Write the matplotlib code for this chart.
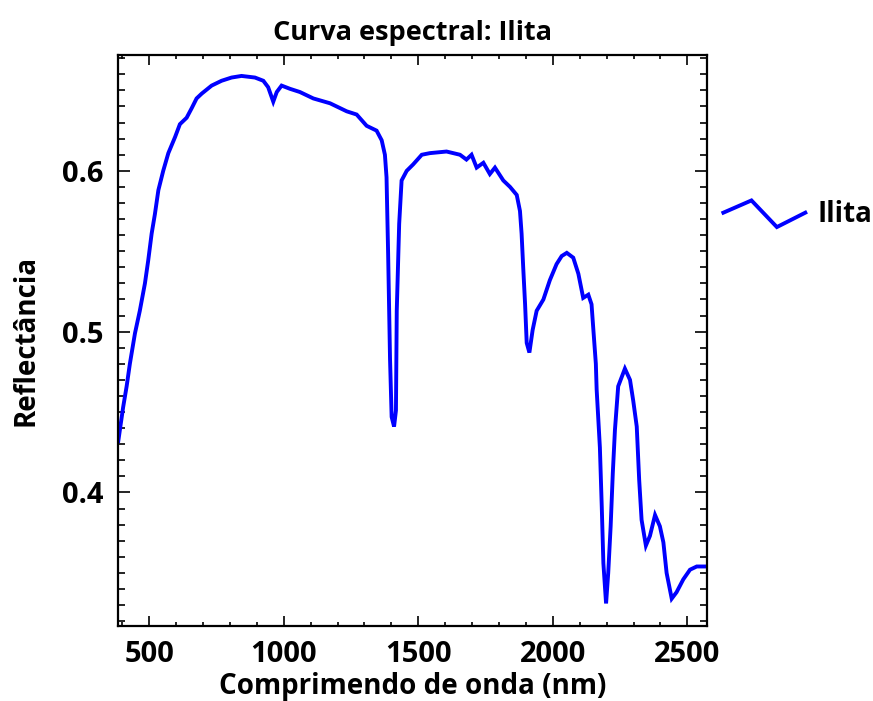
import numpy as np
import matplotlib
matplotlib.use("Agg")
import matplotlib.pyplot as plt
from matplotlib.lines import Line2D
from matplotlib.legend_handler import HandlerBase
from matplotlib.ticker import MultipleLocator, FormatStrFormatter

# ---- data ----
wavelength_nm = [385, 403, 416, 428, 447, 465, 484, 496, 509, 521, 534, 552, 571, 596,
                 614, 639, 658, 676, 695, 732, 769, 806, 843, 893, 924, 942, 961, 974,
                 992, 1023, 1060, 1110, 1172, 1234, 1271, 1308, 1345, 1364, 1376, 1382,
                 1388, 1395, 1401, 1410, 1417, 1420, 1429, 1438, 1457, 1481, 1513, 1543,
                 1605, 1655, 1679, 1698, 1717, 1742, 1766, 1785, 1816, 1841, 1866, 1878,
                 1884, 1890, 1897, 1903, 1913, 1925, 1940, 1965, 1989, 2014, 2033, 2052,
                 2076, 2095, 2113, 2132, 2144, 2150, 2160, 2163, 2175, 2182, 2188, 2198,
                 2206, 2215, 2223, 2231, 2243, 2268, 2287, 2299, 2312, 2321, 2330, 2346,
                 2361, 2380, 2398, 2411, 2423, 2442, 2460, 2485, 2510, 2535, 2572]
reflectance = [0.432, 0.453, 0.466, 0.480, 0.499, 0.513, 0.530, 0.544, 0.561, 0.573, 0.588,
               0.600, 0.611, 0.621, 0.629, 0.633, 0.639, 0.645, 0.648, 0.653, 0.656, 0.658,
               0.659, 0.658, 0.656, 0.652, 0.643, 0.649, 0.653, 0.651, 0.649, 0.645, 0.642,
               0.637, 0.635, 0.628, 0.625, 0.619, 0.610, 0.596, 0.548, 0.483, 0.447, 0.441,
               0.451, 0.513, 0.567, 0.594, 0.600, 0.604, 0.610, 0.611, 0.612, 0.610, 0.607,
               0.610, 0.602, 0.605, 0.598, 0.602, 0.594, 0.590, 0.585, 0.575, 0.561, 0.540,
               0.517, 0.493, 0.487, 0.501, 0.513, 0.520, 0.532, 0.542, 0.547, 0.549, 0.546,
               0.536, 0.521, 0.523, 0.517, 0.503, 0.480, 0.464, 0.428, 0.391, 0.356, 0.331,
               0.350, 0.379, 0.412, 0.439, 0.466, 0.477, 0.470, 0.457, 0.441, 0.408, 0.383,
               0.367, 0.373, 0.386, 0.379, 0.369, 0.350, 0.334, 0.338, 0.346, 0.352, 0.354,
               0.354]
series_name = "Ilita"
title_text = "Curva espectral: Ilita"
xlabel_text = "Comprimendo de onda (nm)"
ylabel_text = "Reflectância"

FONT = ["Open Sans", "DejaVu Sans"]
plt.rcParams["font.family"] = FONT
LINE_COLOR = "#0000FF"
W = "bold"


class ZigzagHandler(HandlerBase):
    def create_artists(self, legend, orig_handle, xdescent, ydescent,
                       width, height, fontsize, trans):
        fx = np.array([0.0, 0.343, 0.653, 1.0])
        fy = np.array([0.5, 1.13, -0.24, 0.5])
        line = Line2D(fx * width - xdescent, fy * height - ydescent,
                      color=orig_handle.get_color(),
                      linewidth=orig_handle.get_linewidth(),
                      solid_joinstyle="miter")
        line.set_transform(trans)
        return [line]


fig = plt.figure(figsize=(8.73, 7.01), dpi=100)
ax = fig.add_axes([0.1355, 0.107, 0.8095 - 0.1355, 0.9215 - 0.107])

(ln,) = ax.plot(wavelength_nm, reflectance, color=LINE_COLOR, lw=2.8,
                label=series_name, solid_joinstyle="miter")

ax.set_xlim(385, 2572)
ax.set_ylim(0.317, 0.672)
ax.xaxis.set_major_locator(MultipleLocator(500))
ax.xaxis.set_minor_locator(MultipleLocator(100))
ax.yaxis.set_major_locator(MultipleLocator(0.1))
ax.yaxis.set_minor_locator(MultipleLocator(0.01))
ax.yaxis.set_major_formatter(FormatStrFormatter("%.1f"))

for s in ax.spines.values():
    s.set_linewidth(1.6)
ax.tick_params(which="both", direction="in", top=True, right=True, width=1.2)
ax.tick_params(axis="x", which="major", length=7.5, pad=10, labelsize=21)
ax.tick_params(axis="x", which="minor", length=3.2)
ax.tick_params(axis="y", which="major", length=8.5, pad=11, labelsize=21)
ax.tick_params(axis="y", which="minor", length=5)
for lab in ax.get_xticklabels() + ax.get_yticklabels():
    lab.set_fontweight(W)

ax.set_title(title_text, fontsize=19.5, pad=11, fontweight=W)
ax.set_xlabel(xlabel_text, fontsize=20, labelpad=2, fontweight=W)
ax.set_ylabel(ylabel_text, fontsize=20, labelpad=15, fontweight=W)

leg = ax.legend(handles=[ln], loc="center left", bbox_to_anchor=(1.0, 0.72),
                frameon=False, handler_map={Line2D: ZigzagHandler()},
                handlelength=2.95, handletextpad=0.43, borderaxespad=0.2,
                prop={"size": 20, "weight": W})

fig.savefig("out.png", dpi=100)
